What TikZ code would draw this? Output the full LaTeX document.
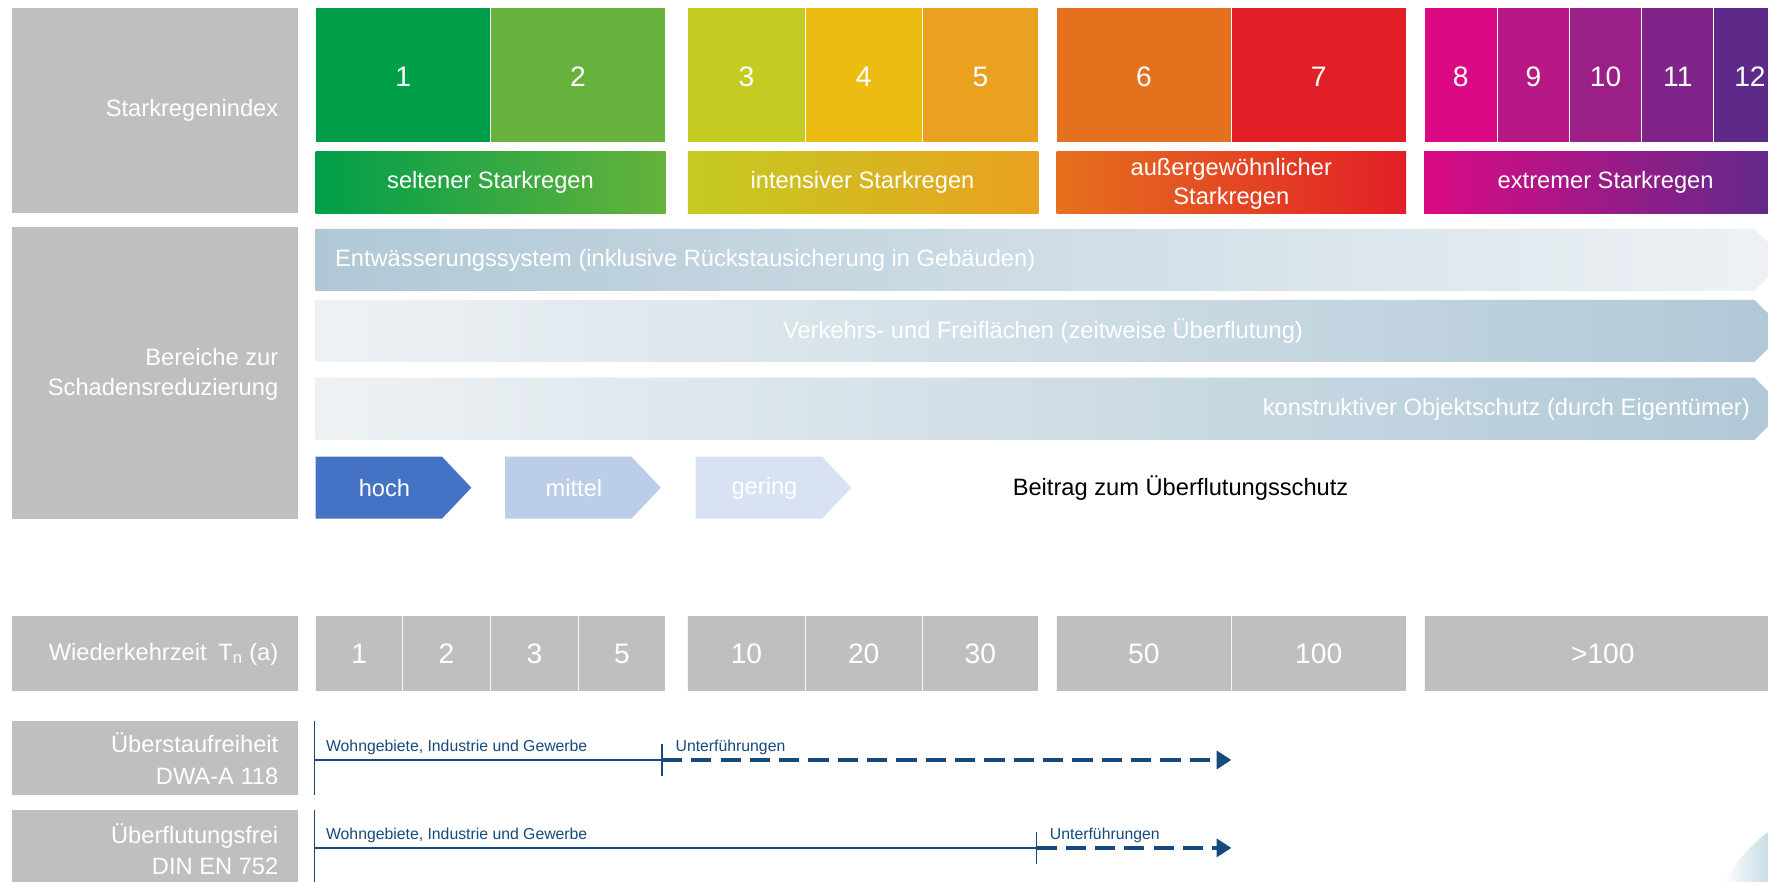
\documentclass[tikz,border=0pt]{standalone}
\usepackage{fontspec}
\setmainfont{Liberation Sans}
\usetikzlibrary{arrows.meta, positioning, calc}
\definecolor{srgrey}{HTML}{BFBFBF}
\definecolor{sri1}{HTML}{009E49}
\definecolor{sri2}{HTML}{66B23C}
\definecolor{sri3}{HTML}{C4CB22}
\definecolor{sri4}{HTML}{EDBC12}
\definecolor{sri5}{HTML}{E9A11F}
\definecolor{sri6}{HTML}{E5711F}
\definecolor{sri7}{HTML}{E21F26}
\definecolor{sri8}{HTML}{DB0A84}
\definecolor{sri9}{HTML}{B61985}
\definecolor{sri10}{HTML}{9A2088}
\definecolor{sri11}{HTML}{7F2489}
\definecolor{sri12}{HTML}{5E2A8A}
\definecolor{banddark}{HTML}{B0C8D6}
\definecolor{bandlight}{HTML}{EEF2F5}
\definecolor{hochblue}{HTML}{4472C4}
\definecolor{mittelblue}{HTML}{BCCDE8}
\definecolor{geringblue}{HTML}{D9E2F3}
\definecolor{normblue}{HTML}{174A7C}
\definecolor{cornerblue}{HTML}{C9DCE7}

\begin{document}
\begin{tikzpicture}[x=1pt, y=-1pt,
  lbl/.style={white, font=\fontsize{21}{26}\selectfont, align=right, anchor=east, inner sep=0pt},
  numtxt/.style={white, font=\fontsize{25}{25}\selectfont},
  cattxt/.style={white, font=\fontsize{21}{25}\selectfont, align=center},
  bandtxt/.style={white, font=\fontsize{21}{21}\selectfont, inner sep=0pt},
  normtxt/.style={normblue, font=\fontsize{14}{14}\selectfont, anchor=south west, inner sep=0pt},
  normline/.style={normblue, line width=1.3pt},
  dashline/.style={normblue, line width=3pt, dash pattern=on 18pt off 8pt, -{Triangle[length=13pt, width=16pt]}}]
  \clip (0,0) rectangle (1568,782);
  \fill[white] (0,0) rectangle (1568,782);

  % faint corner of the background photo (BOTTOM RIGHT)
  \shade[left color=white, right color=cornerblue]
    (1528,782) .. controls (1542,762) and (1554,748) .. (1568,738) -- (1568,782) -- cycle;

  % Label column (LEFT)
  \fill[srgrey] (11,7) rectangle (264,189);
  \fill[srgrey] (11,201) rectangle (264,460);
  \fill[srgrey] (11,546) rectangle (264,613);
  \fill[srgrey] (11,639) rectangle (264,705);
  \fill[srgrey] (11,718) rectangle (264,790);
  \node[lbl] (lblIndex) at (247,98) {Starkregenindex};
  \node[lbl] (lblBereiche) at (247,332) {Bereiche zur\\Schadensreduzierung};
  \node[lbl] (lblWkz) at (247,580) {Wiederkehrzeit\enspace T\textsubscript{n} (a)};
  \node[lbl, font=\fontsize{21}{29}\selectfont] (lblDwa) at (247,673) {Überstaufreiheit\\DWA-A 118};
  \node[lbl, font=\fontsize{21}{27}\selectfont] (lblDin) at (247,753) {Überflutungsfrei\\DIN EN 752};

  % Starkregenindex boxes
  \foreach \xa/\xb/\num in {280/435/1, 435/590/2, 610/714/3, 714/818/4, 818/921/5,
      937/1092/6, 1092/1247/7, 1263/1328/8, 1328/1392/9, 1392/1456/10, 1456/1520/11, 1520/1584/12} {
    \fill[sri\num] (\xa,7) rectangle (\xb,126);
    \draw[white!75, line width=0.8pt] (\xa,7) -- (\xa,126);
    \node[numtxt] (si\num) at ({(\xa+\xb)/2},68) {\num};
  }

  % Categories with gradient
  \shade[left color=sri1, right color=sri2] (280,134) rectangle (590,189);
  \shade[left color=sri3, right color=sri5] (610,134) rectangle (921,189);
  \shade[left color=sri6, right color=sri7] (937,134) rectangle (1247,189);
  \shade[left color=sri8, right color=sri12] (1263,134) rectangle (1580,189);
  \node[cattxt] (catSelten) at (435,162) {seltener Starkregen};
  \node[cattxt] (catIntensiv) at (765,162) {intensiver Starkregen};
  \node[cattxt] (catAusser) at (1092,163) {außergewöhnlicher\\Starkregen};
  \node[cattxt] (catExtrem) at (1424,162) {extremer Starkregen};

  % Bands for damage reduction
  \shade[left color=banddark, right color=bandlight]
    (280,203) -- (1556,203) -- (1584,230.5) -- (1556,258) -- (280,258) -- cycle;
  \shade[left color=bandlight, right color=banddark]
    (280,266) -- (1556,266) -- (1584,293.5) -- (1556,321) -- (280,321) -- cycle;
  \shade[left color=bandlight, right color=banddark]
    (280,335) -- (1556,335) -- (1584,362.5) -- (1556,390) -- (280,390) -- cycle;
  \node[bandtxt, anchor=west] (bandEntw) at (297,231) {Entwässerungssystem (inklusive Rückstausicherung in Gebäuden)};
  \node[bandtxt] (bandVerk) at (925,294) {Verkehrs- und Freiflächen (zeitweise Überflutung)};
  \node[bandtxt, anchor=east] (bandObj) at (1552,363) {konstruktiver Objektschutz (durch Eigentümer)};

  % Legend arrows
  \foreach \xs/\col/\txt/\nm in {280/hochblue/hoch/lgHoch, 448/mittelblue/mittel/lgMittel, 617/geringblue/gering/lgGering} {
    \fill[\col] (\xs,405) -- (\xs+112,405) -- (\xs+138,432.5) -- (\xs+112,460) -- (\xs,460) -- cycle;
    \node[bandtxt] (\nm) at (\xs+61,433) {\txt};
  }
  \node[black, font=\fontsize{21}{21}\selectfont] (lgBeitrag) at (1047,433) {Beitrag zum Überflutungsschutz};

  % Wiederkehrzeit boxes
  \foreach \xa/\xb/\val/\nm in {280/357/1/wk1, 357/435/2/wk2, 435/513/3/wk3, 513/590/5/wk5,
      610/714/10/wk10, 714/818/20/wk20, 818/921/30/wk30, 937/1092/50/wk50, 1092/1247/100/wk100, 1263/1580/>100/wkMax} {
    \fill[srgrey] (\xa,546) rectangle (\xb,613);
    \draw[white!85!srgrey, line width=0.8pt] (\xa,546) -- (\xa,613);
    \node[numtxt] (\nm) at ({(\xa+\xb)/2},580) {\val};
  }

  % Ueberstaufreiheit DWA-A 118
  \coordinate (dwaTop) at (279,639);
  \coordinate (dwaBot) at (279,705);
  \coordinate (dwaA) at (279,674);
  \coordinate (dwaB) at (587,674);
  \coordinate (dwaC) at (1092,674);
  \draw[normline] (dwaTop) -- (dwaBot);
  \draw[normline] (dwaA) -- (dwaB);
  \draw[normline] ($(dwaB)+(0,-14)$) -- ($(dwaB)+(0,14)$);
  \draw[dashline] (dwaB) -- (dwaC);
  \node[normtxt] (dwaWohn) at (289,670) {Wohngebiete, Industrie und Gewerbe};
  \node[normtxt] (dwaUnter) at (599,670) {Unterführungen};

  % Ueberflutungsfrei DIN EN 752
  \coordinate (dinTop) at (279,718);
  \coordinate (dinBot) at (279,790);
  \coordinate (dinA) at (279,752);
  \coordinate (dinB) at (919,752);
  \coordinate (dinC) at (1092,752);
  \draw[normline] (dinTop) -- (dinBot);
  \draw[normline] (dinA) -- (dinB);
  \draw[normline] ($(dinB)+(0,-14)$) -- ($(dinB)+(0,14)$);
  \draw[dashline] (dinB) -- (dinC);
  \node[normtxt] (dinWohn) at (289,748) {Wohngebiete, Industrie und Gewerbe};
  \node[normtxt] (dinUnter) at (931,748) {Unterführungen};
\end{tikzpicture}
\end{document}
